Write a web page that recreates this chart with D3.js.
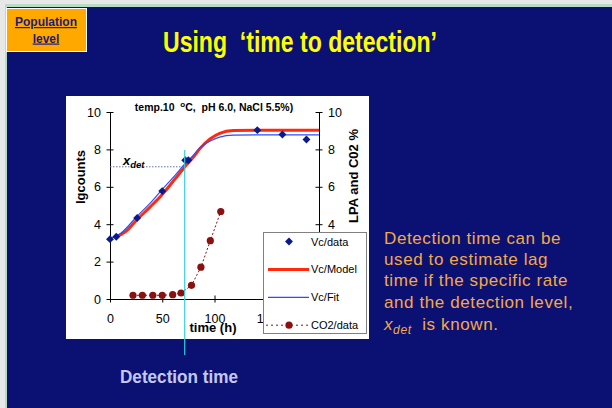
<!DOCTYPE html>
<html>
<head>
<meta charset="utf-8">
<script src="https://cdn.jsdelivr.net/npm/d3@7"></script>
<style>
  html, body { margin: 0; padding: 0; background: #e8e8e8; }
  svg { display: block; font-family: 'Liberation Sans', Arial, sans-serif; }
  svg text { white-space: pre; }
</style>
</head>
<body>
<div id="chart"></div>
<script>
// measured data (time h, value)
const vcData = [[0, 3.2], [6, 3.33], [26, 4.33], [50, 5.77], [72, 7.42], [75, 7.42], [141, 9.03], [165, 8.8], [188, 8.53]]
const vcModel = [[5, 3.3], [15, 3.6], [26, 4.25], [38, 4.9], [50, 5.59], [62, 6.4], [72, 7.1], [80, 7.6], [86, 8.04], [96, 8.57], [105, 8.86], [118, 9.01], [140, 9.03], [200, 9.03]]
const vcFit = [[0, 3.22], [10, 3.5], [26, 4.43], [38, 5.1], [50, 5.86], [62, 6.6], [72, 7.25], [80, 7.7], [86, 8.09], [96, 8.45], [105, 8.66], [118, 8.76], [140, 8.78], [200, 8.78]]
const co2Data = [[22, 0.2], [31, 0.2], [41, 0.2], [50, 0.2], [60, 0.23], [68, 0.32], [78, 0.73], [87, 1.7], [96, 3.12], [106, 4.68]]
const xTicks = [0, 50, 100, 150, 200]
const yTicks = [0, 2, 4, 6, 8, 10]
const xDet = 7.07
const tDet = 71.5
const legendNames = ['Vc/data', 'Vc/Model', 'Vc/Fit', 'CO2/data']
const noteLines = ['Detection time can be', 'used to estimate lag', 'time if the specific rate', 'and the detection level,']

const NAVY = '#0b1173'
const W = 612, H = 408

const svg = d3.select('#chart').append('svg')
  .attr('width', W).attr('height', H)

// slide frame
svg.append('rect').attr('x', 0).attr('y', 0).attr('width', W).attr('height', H).attr('fill', '#e8e8e8')
svg.append('rect').attr('x', 5).attr('y', 4).attr('width', W - 5).attr('height', H - 4).attr('fill', '#b8dcc6')
svg.append('rect').attr('x', 7).attr('y', 7).attr('width', W - 7).attr('height', H - 7).attr('fill', NAVY)

// orange tag
svg.append('rect').attr('x', 6.5).attr('y', 8.5).attr('width', 80).attr('height', 43)
  .attr('fill', '#ffa800').attr('stroke', '#ffffff').attr('stroke-width', 1)
svg.append('text').attr('x', 46).attr('y', 26).attr('text-anchor', 'middle')
  .attr('font-size', 12).attr('font-weight', 'bold').attr('fill', '#1c1c78')
  .attr('text-decoration', 'underline').text('Population')
svg.append('text').attr('x', 46).attr('y', 42.5).attr('text-anchor', 'middle')
  .attr('font-size', 12).attr('font-weight', 'bold').attr('fill', '#1c1c78')
  .attr('text-decoration', 'underline').text('level')

// title
svg.append('text').attr('x', 163).attr('y', 51.5)
  .attr('font-size', 29).attr('font-weight', 'bold').attr('fill', '#ffff00')
  .attr('textLength', 274).attr('lengthAdjust', 'spacingAndGlyphs')
  .text('Using  \u2018time to detection\u2019')

// chart panel
svg.append('rect').attr('x', 66).attr('y', 96).attr('width', 303).attr('height', 243).attr('fill', '#ffffff')

const x = d3.scaleLinear().domain([0, 200]).range([110, 319])
const y = d3.scaleLinear().domain([0, 10]).range([299, 112])

function crossTicks(g, horizontal) {
  g.select('.domain').attr('stroke', '#000')
  g.selectAll('.tick line').attr('stroke', '#000')
    .attr(horizontal ? 'y1' : 'x1', -3.5).attr(horizontal ? 'y2' : 'x2', 3.5)
  g.selectAll('text').attr('fill', '#000').attr('font-size', 12.5)
    .attr('font-family', "'Liberation Sans', Arial, sans-serif")
}

const gx = svg.append('g').attr('transform', `translate(0,${y(0)})`)
  .call(d3.axisBottom(x).tickValues(xTicks).tickSizeInner(4).tickSizeOuter(0).tickPadding(11.5))
crossTicks(gx, true)
const gy = svg.append('g').attr('transform', `translate(${x(0)},0)`)
  .call(d3.axisLeft(y).tickValues(yTicks).tickSizeInner(4).tickSizeOuter(0).tickPadding(5))
crossTicks(gy, false)
const gy2 = svg.append('g').attr('transform', `translate(${x(200)},0)`)
  .call(d3.axisRight(y).tickValues(yTicks).tickSizeInner(4).tickSizeOuter(0).tickPadding(5))
crossTicks(gy2, false)

// axis titles
svg.append('text').attr('transform', `translate(84.5,177) rotate(-90)`).attr('text-anchor', 'middle')
  .attr('font-size', 13).attr('font-weight', 'bold').text('lgcounts')
svg.append('text').attr('transform', `translate(357.5,176) rotate(-90)`).attr('text-anchor', 'middle')
  .attr('font-size', 13).attr('font-weight', 'bold').text('LPA and C02 %')
svg.append('text').attr('x', 213).attr('y', 332).attr('text-anchor', 'middle')
  .attr('font-size', 13).attr('font-weight', 'bold').text('time (h)')

// chart subtitle
const sub = svg.append('text').attr('x', 214).attr('y', 110.5).attr('text-anchor', 'middle')
  .attr('font-size', 10.5).attr('font-weight', 'bold')
sub.append('tspan').text('temp.10  ')
sub.append('tspan').attr('font-size', 8).attr('dy', -4).text('o')
sub.append('tspan').attr('dy', 4).text('C,  pH 6.0, NaCl 5.5%)')

// detection level guide
svg.append('line').attr('x1', x(0)).attr('x2', x(tDet)).attr('y1', y(xDet)).attr('y2', y(xDet))
  .attr('stroke', '#6070b8').attr('stroke-width', 1).attr('stroke-dasharray', '1.5,1.5')
const xd = svg.append('text').attr('x', 123).attr('y', 165).attr('font-size', 13)
  .attr('font-weight', 'bold').attr('font-style', 'italic')
xd.append('tspan').text('x')
xd.append('tspan').attr('font-size', 9.5).attr('dy', 3).text('det')

const line = d3.line().x(d => x(d[0])).y(d => y(d[1])).curve(d3.curveMonotoneX)

svg.append('path').datum(vcModel).attr('d', line).attr('fill', 'none')
  .attr('stroke', '#ff2a0e').attr('stroke-width', 3)
svg.append('path').datum(vcFit).attr('d', line).attr('fill', 'none')
  .attr('stroke', '#2b4cff').attr('stroke-width', 1.2)

svg.append('path').datum(co2Data).attr('d', d3.line().x(d => x(d[0])).y(d => y(d[1])))
  .attr('fill', 'none').attr('stroke', '#8b1010').attr('stroke-width', 1).attr('stroke-dasharray', '2,2')
svg.selectAll('.co2').data(co2Data).join('circle').attr('class', 'co2')
  .attr('cx', d => x(d[0])).attr('cy', d => y(d[1])).attr('r', 3.6).attr('fill', '#8b1010')

const diamond = d3.symbol().type(d3.symbolDiamond2).size(40)
svg.selectAll('.vc').data(vcData).join('path').attr('class', 'vc')
  .attr('transform', d => `translate(${x(d[0])},${y(d[1])})`).attr('d', diamond).attr('fill', '#0a1a8c')

// legend
const lg = svg.append('g')
lg.append('rect').attr('x', 263.5).attr('y', 232.5).attr('width', 103).attr('height', 101)
  .attr('fill', '#ffffff').attr('stroke', '#808080').attr('stroke-width', 1)
legendNames.forEach((name, i) => {
  const cy = 241.5 + i * 27.9
  const row = lg.append('g')
  if (i === 0) {
    row.append('path').attr('transform', `translate(289,${cy})`).attr('d', diamond).attr('fill', '#0a1a8c')
  } else if (i === 1) {
    row.append('line').attr('x1', 268).attr('x2', 309).attr('y1', cy).attr('y2', cy)
      .attr('stroke', '#ff2a0e').attr('stroke-width', 3)
  } else if (i === 2) {
    row.append('line').attr('x1', 268).attr('x2', 309).attr('y1', cy).attr('y2', cy)
      .attr('stroke', '#2b4cff').attr('stroke-width', 1.2)
  } else {
    row.append('line').attr('x1', 266).attr('x2', 310).attr('y1', cy).attr('y2', cy)
      .attr('stroke', '#8b1010').attr('stroke-width', 1).attr('stroke-dasharray', '2,3')
    row.append('circle').attr('cx', 289).attr('cy', cy).attr('r', 3.6).attr('fill', '#8b1010')
  }
  row.append('text').attr('x', 311).attr('y', cy + 4).attr('font-size', 11).attr('fill', '#000').text(name)
})

// detection time marker
svg.append('line').attr('x1', x(tDet)).attr('x2', x(tDet)).attr('y1', 150).attr('y2', 355)
  .attr('stroke', '#30d0d8').attr('stroke-width', 1.2)
svg.append('text').attr('x', 120).attr('y', 383)
  .attr('font-size', 18).attr('font-weight', 'bold').attr('fill', '#c4c8f0')
  .attr('textLength', 118).attr('lengthAdjust', 'spacingAndGlyphs').text('Detection time')

// explanatory note
const note = svg.append('g').attr('fill', '#f4a846').attr('font-size', 17).attr('letter-spacing', 0.6)
noteLines.forEach((t, i) => {
  note.append('text').attr('x', 384).attr('y', 244 + i * 21.2).text(t)
})
const last = note.append('text').attr('x', 384).attr('y', 329.5)
last.append('tspan').attr('font-style', 'italic').text('x')
last.append('tspan').attr('font-style', 'italic').attr('font-size', 12).attr('dy', 4).text('det')
last.append('tspan').attr('dy', -4).text('  is known.')
</script>
</body>
</html>
